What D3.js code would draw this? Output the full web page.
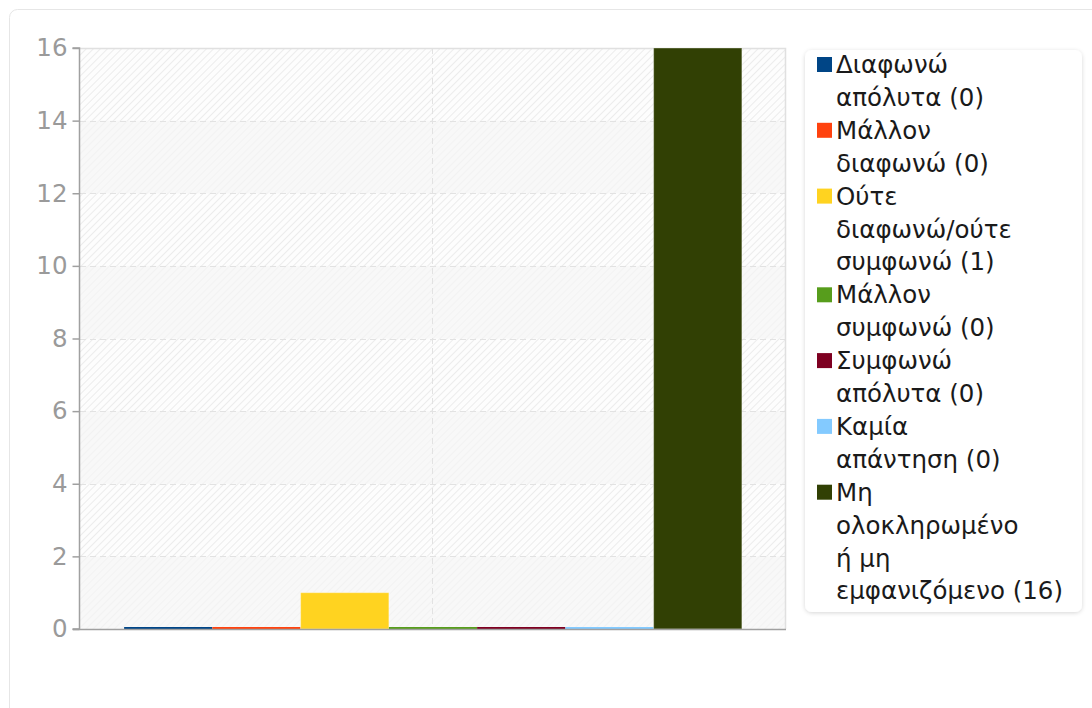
<!DOCTYPE html>
<html>
<head>
<meta charset="utf-8">
<script src="https://cdn.jsdelivr.net/npm/d3@7"></script>
<style>
  html, body { margin: 0; padding: 0; background: #fff; }
  body { width: 1092px; height: 708px; overflow: hidden; }
  svg { display: block; font-family: "DejaVu Sans", sans-serif; }
</style>
</head>
<body>
<div id="chart"></div>
<script>
// Dữ liệu
const categories = [
    "Διαφωνώ απόλυτα",
    "Μάλλον διαφωνώ",
    "Ούτε διαφωνώ/ούτε συμφωνώ",
    "Μάλλον συμφωνώ",
    "Συμφωνώ απόλυτα",
    "Καμία απάντηση",
    "Μη ολοκληρωμένο ή μη εμφανιζόμενο"
];
const values = [0, 0, 1, 0, 0, 0, 16];
const colors = ["#004586", "#ff420e", "#ffd320", "#579d1c", "#7e0021", "#83caff", "#314004"];
const legendLines = [
    ["Διαφωνώ", "απόλυτα (0)"],
    ["Μάλλον", "διαφωνώ (0)"],
    ["Ούτε", "διαφωνώ/ούτε", "συμφωνώ (1)"],
    ["Μάλλον", "συμφωνώ (0)"],
    ["Συμφωνώ", "απόλυτα (0)"],
    ["Καμία", "απάντηση (0)"],
    ["Μη", "ολοκληρωμένο", "ή μη", "εμφανιζόμενο (16)"]
];
const yTicks = [0, 2, 4, 6, 8, 10, 12, 14, 16];

const width = 1092, height = 708;
const plot = { left: 80, right: 786, top: 48, bottom: 629 };

const svg = d3.select("#chart").append("svg")
    .attr("width", width)
    .attr("height", height);

const defs = svg.append("defs");
const hatch = defs.append("pattern")
    .attr("id", "hatch")
    .attr("patternUnits", "userSpaceOnUse")
    .attr("width", 5).attr("height", 5)
    .attr("patternTransform", "rotate(45)");
hatch.append("rect").attr("width", 5).attr("height", 5).attr("fill", "#fdfdfd");
hatch.append("line")
    .attr("x1", 0).attr("y1", 0).attr("x2", 0).attr("y2", 5)
    .attr("stroke", "#ebebeb").attr("stroke-width", 1.8);

const shadow = defs.append("filter").attr("id", "shadow")
    .attr("x", "-10%").attr("y", "-10%").attr("width", "120%").attr("height", "120%");
shadow.append("feDropShadow")
    .attr("dx", 0).attr("dy", 1).attr("stdDeviation", 2)
    .attr("flood-color", "#000").attr("flood-opacity", 0.16);

// Khung ngoài
svg.append("rect")
    .attr("x", 9.5).attr("y", 9.5)
    .attr("width", 1200).attr("height", 800)
    .attr("rx", 8)
    .attr("fill", "#fff")
    .attr("stroke", "#e6e6e6");

// Thang đo
const x = d3.scaleBand()
    .domain(categories)
    .range([plot.left, plot.right])
    .paddingInner(0)
    .paddingOuter(0.5);

const y = d3.scaleLinear()
    .domain([0, 16])
    .range([plot.bottom, plot.top]);

// Nền sọc chéo
svg.append("rect")
    .attr("x", plot.left).attr("y", plot.top)
    .attr("width", plot.right - plot.left)
    .attr("height", plot.bottom - plot.top)
    .attr("fill", "url(#hatch)");

// Dải xen kẽ
svg.selectAll(".band")
    .data(yTicks.filter((d, i) => i % 2 === 0 && d < 16))
    .join("rect")
    .attr("class", "band")
    .attr("x", plot.left)
    .attr("y", d => y(d + 2))
    .attr("width", plot.right - plot.left)
    .attr("height", d => y(d) - y(d + 2))
    .attr("fill", "#f5f5f5")
    .attr("opacity", 0.7);

// Lưới ngang
svg.append("g")
    .selectAll("line")
    .data(yTicks.filter(d => d > 0 && d < 16))
    .join("line")
    .attr("x1", plot.left).attr("x2", plot.right)
    .attr("y1", d => Math.round(y(d)) + 0.5)
    .attr("y2", d => Math.round(y(d)) + 0.5)
    .attr("stroke", "#e2e2e2")
    .attr("stroke-dasharray", "6,4");

// Lưới dọc (giữa)
svg.append("line")
    .attr("x1", Math.round((plot.left + plot.right) / 2) - 0.5)
    .attr("x2", Math.round((plot.left + plot.right) / 2) - 0.5)
    .attr("y1", plot.top).attr("y2", plot.bottom)
    .attr("stroke", "#e2e2e2")
    .attr("stroke-dasharray", "6,4");

// Viền trên và phải
svg.append("path")
    .attr("d", `M${plot.left},${plot.top + 0.5}H${plot.right - 0.5}V${plot.bottom}`)
    .attr("fill", "none")
    .attr("stroke", "#e0e0e0")
    .attr("stroke-width", 1.5);

// Cột
svg.selectAll(".bar")
    .data(values)
    .join("rect")
    .attr("class", "bar")
    .attr("x", (d, i) => x(categories[i]))
    .attr("width", x.bandwidth())
    .attr("y", d => Math.min(y(d), y(0) - 2))
    .attr("height", d => Math.max(y(0) - y(d), 2))
    .attr("fill", (d, i) => colors[i])
    .attr("stroke", d => d > 0 ? "rgba(255,255,255,0.35)" : "none")
    .attr("stroke-width", 1);

// Trục y
const yAxis = svg.append("g")
    .attr("transform", `translate(${plot.left - 0.5},0)`)
    .call(d3.axisLeft(y).tickValues(yTicks).tickSize(7).tickPadding(5).tickFormat(d3.format("d")));
yAxis.select(".domain").attr("stroke", "#a0a0a0").attr("stroke-width", 1.5)
    .attr("d", `M-7,${plot.top}H0V${plot.bottom}H-7`);
yAxis.selectAll(".tick line").attr("stroke", "#a0a0a0").attr("stroke-width", 1.5);
yAxis.selectAll(".tick text")
    .attr("fill", "#9a9a9a")
    .style("font-size", "24.5px")
    .style("font-family", "DejaVu Sans, sans-serif");

// Trục x (đường đáy)
svg.append("line")
    .attr("x1", plot.left - 7).attr("x2", plot.right)
    .attr("y1", plot.bottom + 0.5).attr("y2", plot.bottom + 0.5)
    .attr("stroke", "#a0a0a0").attr("stroke-width", 1.5);

// Chú thích
const legend = { x: 805, y: 50, w: 277, h: 562, line: 32.9 };
svg.append("rect")
    .attr("x", legend.x).attr("y", legend.y)
    .attr("width", legend.w).attr("height", legend.h)
    .attr("rx", 7)
    .attr("fill", "#fff")
    .attr("filter", "url(#shadow)");

let row = 0;
legendLines.forEach((lines, i) => {
    const top = legend.y + 7 + row * legend.line;
    svg.append("rect")
        .attr("x", 817).attr("y", top)
        .attr("width", 15).attr("height", 15)
        .attr("fill", colors[i]);
    const t = svg.append("text")
        .attr("x", 836)
        .attr("y", top + 16)
        .attr("fill", "#1a1a1a")
        .style("font-size", "24.5px");
    lines.forEach((ln, j) => {
        t.append("tspan")
            .attr("x", 836)
            .attr("dy", j === 0 ? 0 : legend.line)
            .text(ln);
    });
    row += lines.length;
});
</script>
</body>
</html>
